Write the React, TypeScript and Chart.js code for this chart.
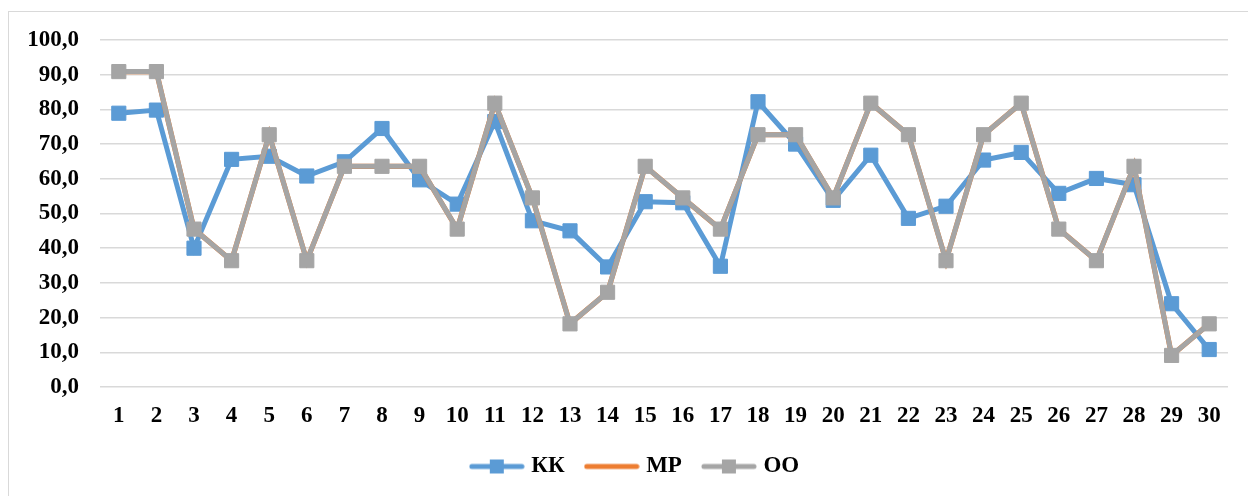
import React, { useEffect, useRef } from "react";
import { Chart, registerables } from "chart.js";

Chart.register(...registerables);

const categories = ["1", "2", "3", "4", "5", "6", "7", "8", "9", "10", "11", "12", "13", "14", "15", "16", "17", "18", "19", "20", "21", "22", "23", "24", "25", "26", "27", "28", "29", "30"];
const kkValues = [78.9, 79.8, 40.0, 65.6, 66.5, 60.8, 64.9, 74.5, 59.7, 52.7, 76.5, 47.9, 45.0, 34.6, 53.4, 53.1, 34.8, 82.2, 70.0, 53.8, 66.8, 48.6, 52.1, 65.4, 67.6, 55.8, 60.1, 58.3, 24.0, 10.8];
const mpValues = [90.9, 90.9, 45.5, 36.4, 72.7, 36.4, 63.6, 63.6, 63.6, 45.5, 81.8, 54.5, 18.2, 27.3, 63.6, 54.5, 45.5, 72.7, 72.7, 54.5, 81.8, 72.7, 36.4, 72.7, 81.8, 45.5, 36.4, 63.6, 9.1, 18.2];
const ooValues = [90.9, 90.9, 45.5, 36.4, 72.7, 36.4, 63.6, 63.6, 63.6, 45.5, 81.8, 54.5, 18.2, 27.3, 63.6, 54.5, 45.5, 72.7, 72.7, 54.5, 81.8, 72.7, 36.4, 72.7, 81.8, 45.5, 36.4, 63.6, 9.1, 18.2];
const seriesNames = ["КК", "МР", "ОО"];
const seriesColors = ["#5B9BD5", "#ED7D31", "#A5A5A5"];
const yMin = 0;
const yMax = 100;
const yStep = 10;

const FONT = "'Liberation Serif', 'Times New Roman', serif";

function makeIcon(color: string, marker: boolean): HTMLCanvasElement {
  const c = document.createElement("canvas");
  c.width = 56;
  c.height = 16;
  const ctx = c.getContext("2d")!;
  ctx.strokeStyle = color;
  ctx.lineWidth = 5;
  ctx.lineCap = "round";
  ctx.beginPath();
  ctx.moveTo(3, 8);
  ctx.lineTo(53, 8);
  ctx.stroke();
  if (marker) {
    ctx.fillStyle = color;
    ctx.fillRect(21, 1, 14, 14);
  }
  return c;
}

export default function App() {
  const ref = useRef<HTMLCanvasElement | null>(null);

  useEffect(() => {
    document.body.style.margin = "0";
    const icons = [
      makeIcon(seriesColors[0], true),
      makeIcon(seriesColors[1], false),
      makeIcon(seriesColors[2], true),
    ];
    const chart = new Chart(ref.current!, {
      type: "line",
      data: {
        labels: categories,
        datasets: [
          {
            label: seriesNames[0],
            data: kkValues,
            borderColor: seriesColors[0],
            backgroundColor: seriesColors[0],
            borderWidth: 5,
            pointStyle: "rect",
            pointRadius: 10,
            pointBorderWidth: 1,
            pointHoverRadius: 10,
            order: 3,
          },
          {
            label: seriesNames[1],
            data: mpValues,
            borderColor: seriesColors[1],
            backgroundColor: seriesColors[1],
            borderWidth: 5.2,
            pointRadius: 0,
            pointHoverRadius: 0,
            order: 2,
          },
          {
            label: seriesNames[2],
            data: ooValues,
            borderColor: seriesColors[2],
            backgroundColor: seriesColors[2],
            borderWidth: 5,
            pointStyle: "rect",
            pointRadius: 10,
            pointBorderWidth: 1,
            pointHoverRadius: 10,
            order: 1,
          },
        ],
      },
      options: {
        animation: false,
        responsive: false,
        layout: { padding: { top: 40, left: 45, right: 20, bottom: 8 } },
        scales: {
          x: {
            offset: true,
            grid: { display: false, drawTicks: false },
            border: { display: false },
            ticks: {
              color: "#000",
              padding: 15,
              font: { family: FONT, size: 23, weight: "bold" },
              maxRotation: 0,
              autoSkip: false,
            },
            afterFit: (s: any) => {
              s.height = 44;
            },
          },
          y: {
            min: yMin,
            max: yMax,
            grid: { color: "#d9d9d9", lineWidth: 1.5, drawTicks: false },
            border: { display: false },
            ticks: {
              stepSize: yStep,
              color: "#000",
              padding: 21,
              font: { family: FONT, size: 23, weight: "bold" },
              callback: (v: any) => Number(v).toFixed(1).replace(".", ","),
            },
            afterFit: (s: any) => {
              s.width = 55;
              s._computeLabelArea = () => undefined;
            },
          },
        },
        plugins: {
          tooltip: { enabled: false },
          legend: {
            position: "bottom",
            labels: {
              color: "#000",
              usePointStyle: true,
              pointStyleWidth: 46,
              boxHeight: 16,
              padding: 24,
              font: { family: FONT, size: 23, weight: "bold" },
              generateLabels: () =>
                seriesNames.map((name, i) => ({
                  text: name,
                  pointStyle: icons[i] as any,
                  fillStyle: seriesColors[i],
                  strokeStyle: seriesColors[i],
                  lineWidth: 0,
                  hidden: false,
                  datasetIndex: i,
                  fontColor: "#000",
                })),
            },
          },
        },
      },
    });
    return () => chart.destroy();
  }, []);

  return (
    <div style={{ position: "relative", width: 1248, height: 496, overflow: "hidden", background: "#fff" }}>
      <div
        style={{
          position: "absolute",
          left: 8,
          top: 11,
          width: 1280,
          height: 520,
          border: "1px solid #d9d9d9",
          boxSizing: "border-box",
        }}
      />
      <canvas ref={ref} width={1248} height={496} style={{ position: "absolute", left: 0, top: 0 }} />
    </div>
  );
}
